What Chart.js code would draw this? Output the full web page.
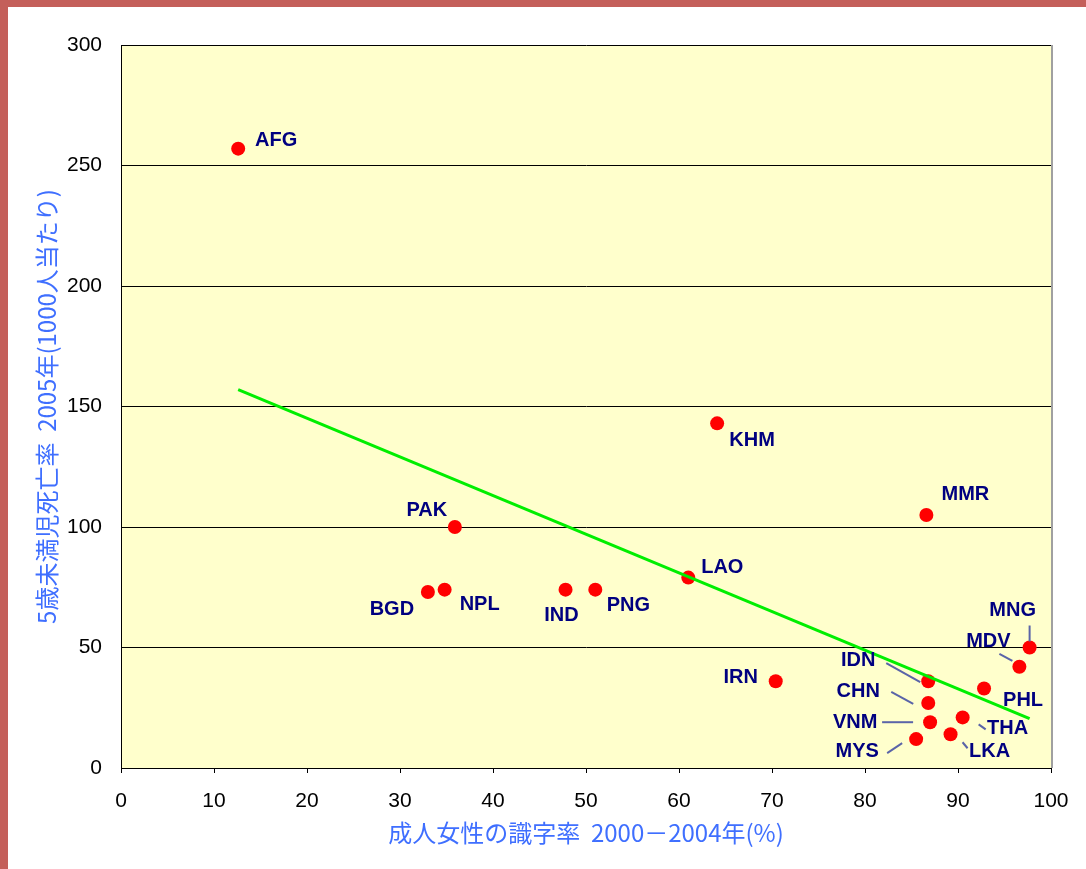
<!DOCTYPE html>
<html lang="ja">
<head>
<meta charset="utf-8">
<title>成人女性の識字率と5歳未満児死亡率</title>
<script src="https://cdn.jsdelivr.net/npm/chart.js@4"></script>
<style>
  html, body { margin: 0; padding: 0; background: #fff; }
  #wrap { position: relative; width: 1086px; height: 869px; overflow: hidden; }
  #wrap canvas { position: absolute; left: 0; top: 0; }
  .frame { position: absolute; background: #c45f5a; }
</style>
</head>
<body>
<div id="wrap">
  <canvas id="chart" width="1086" height="869"></canvas>
  <div class="frame" style="left:0;top:0;width:1086px;height:7px"></div>
  <div class="frame" style="left:0;top:0;width:8px;height:869px"></div>
</div>
<script>
// Data
const countries = ['AFG', 'PAK', 'BGD', 'NPL', 'IND', 'PNG', 'LAO', 'KHM', 'IRN', 'MMR',
                   'IDN', 'CHN', 'VNM', 'MYS', 'LKA', 'THA', 'PHL', 'MDV', 'MNG'];
// Adult female literacy 2000-2004 (%)
const literacy  = [12.6, 35.9, 33.0, 34.8, 47.8, 51.0, 61.0, 64.1, 70.4, 86.6,
                   86.8, 86.8, 87.0, 85.5, 89.2, 90.5, 92.8, 96.6, 97.7];
// Under-5 mortality 2005 (per 1000)
const mortality = [257, 100, 73, 74, 74, 74, 79, 143, 36, 105,
                   36, 27, 19, 12, 14, 21, 33, 42, 50];
// Trend line end points
const trendX = [12.6, 97.7];
const trendY = [157, 20.5];

const xTicks = { min: 0, max: 100, step: 10 };
const yTicks = { min: 0, max: 300, step: 50 };

const X_TITLE = '成人女性の識字率  2000－2004年(%)';
const Y_TITLE = '5歳未満児死亡率  2005年(1000人当たり)';

// Label placement (pixel offsets from each point), plus optional leader line
const labelPlacement = {
  AFG: { dx: 38, dy: -8 },
  PAK: { dx: -28, dy: -17 },
  BGD: { dx: -36, dy: 17 },
  NPL: { dx: 35, dy: 15 },
  IND: { dx: -4, dy: 26 },
  PNG: { dx: 33, dy: 16 },
  LAO: { dx: 34, dy: -10 },
  KHM: { dx: 35, dy: 17 },
  IRN: { dx: -35, dy: -4 },
  MMR: { dx: 39, dy: -20 },
  IDN: { dx: -70, dy: -21, leader: [-42, -18, -8, 1] },
  CHN: { dx: -70, dy: -11, leader: [-37, -11, -15, 1] },
  VNM: { dx: -75, dy: 0,   leader: [-48, 0, -17, 0] },
  MYS: { dx: -59, dy: 12,  leader: [-29, 14, -14, 4] },
  LKA: { dx: 39, dy: 17,   leader: [12, 8, 17, 14] },
  THA: { dx: 45, dy: 11,   leader: [16, 7, 23, 12] },
  PHL: { dx: 39, dy: 12 },
  MDV: { dx: -31, dy: -25, leader: [-20, -13, -7, -6] },
  MNG: { dx: -17, dy: -37, leader: [0, -22, 0, -6] },
};

const chartDeco = {
  id: 'chartDeco',
  beforeDraw(chart) {
    const { ctx, chartArea: a } = chart;
    ctx.save();
    ctx.fillStyle = '#ffffcc';
    ctx.fillRect(a.left, a.top, a.right - a.left, a.bottom - a.top);
    ctx.restore();
  },
  afterDatasetsDraw(chart) {
    const { ctx, chartArea: a } = chart;
    const meta = chart.getDatasetMeta(1);
    ctx.save();
    // right edge of plot area
    ctx.strokeStyle = '#a0a0a0';
    ctx.lineWidth = 2;
    ctx.beginPath();
    ctx.moveTo(a.right + 1, a.top);
    ctx.lineTo(a.right + 1, a.bottom);
    ctx.stroke();

    ctx.font = 'bold 20px "Liberation Sans", Arial, sans-serif';
    ctx.textAlign = 'center';
    ctx.textBaseline = 'middle';
    meta.data.forEach((pt, i) => {
      const place = labelPlacement[countries[i]];
      if (!place) return;
      if (place.leader) {
        const [x1, y1, x2, y2] = place.leader;
        ctx.strokeStyle = '#5a64a8';
        ctx.lineWidth = 2;
        ctx.beginPath();
        ctx.moveTo(pt.x + x1, pt.y + y1);
        ctx.lineTo(pt.x + x2, pt.y + y2);
        ctx.stroke();
      }
      ctx.fillStyle = '#000080';
      ctx.fillText(countries[i], pt.x + place.dx, pt.y + place.dy);
    });
    ctx.restore();
  },
};

const tickFont = { family: '"Liberation Sans", Arial, sans-serif', size: 21 };
const titleFont = { family: '"Noto Sans CJK JP", sans-serif', size: 24 };

new Chart(document.getElementById('chart'), {
  type: 'scatter',
  data: {
    datasets: [
      {
        label: 'trend',
        type: 'line',
        data: trendX.map((x, i) => ({ x, y: trendY[i] })),
        borderColor: '#00ee00',
        borderWidth: 3,
        pointRadius: 0,
        fill: false,
        order: 0,
      },
      {
        label: '5歳未満児死亡率',
        data: countries.map((c, i) => ({ x: literacy[i], y: mortality[i] })),
        backgroundColor: '#ff0000',
        borderWidth: 0,
        pointRadius: 7,
        pointHoverRadius: 7,
        order: 1,
      },
    ],
  },
  options: {
    responsive: false,
    animation: false,
    layout: { padding: { top: 45, right: 35, left: 0, bottom: 0 } },
    plugins: { legend: { display: false }, tooltip: { enabled: false } },
    scales: {
      x: {
        type: 'linear',
        min: xTicks.min,
        max: xTicks.max,
        afterFit(s) { s.height = 101; },
        ticks: { stepSize: xTicks.step, color: '#000', font: tickFont, padding: 16, maxRotation: 0 },
        grid: { drawOnChartArea: false, drawTicks: true, tickLength: 5, color: '#000' },
        border: { color: '#000', width: 1 },
        title: { display: true, text: X_TITLE, color: '#3f6fff', font: titleFont, padding: { top: 0, bottom: 22 } },
      },
      y: {
        type: 'linear',
        min: yTicks.min,
        max: yTicks.max,
        afterFit(s) { s.width = 121; },
        ticks: { stepSize: yTicks.step, color: '#000', font: tickFont, padding: 19 },
        grid: { color: '#000', lineWidth: 1, drawTicks: false },
        border: { color: '#000', width: 1 },
        title: { display: true, text: Y_TITLE, color: '#3f6fff', font: titleFont, padding: { top: 32, bottom: 0 } },
      },
    },
  },
  plugins: [chartDeco],
});
</script>
</body>
</html>
